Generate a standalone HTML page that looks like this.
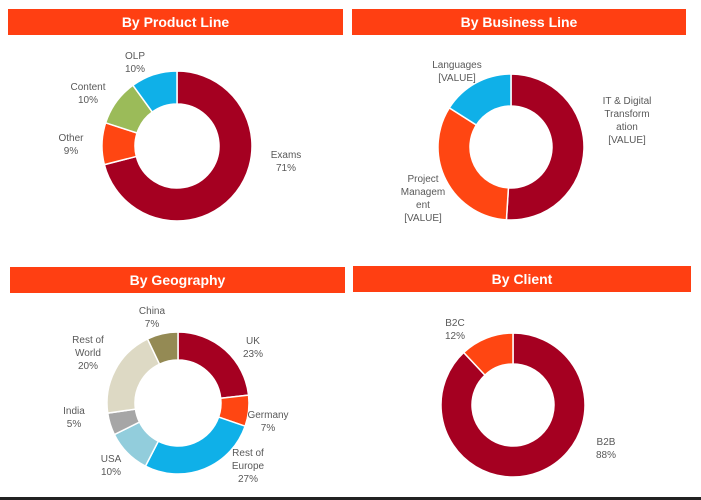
<!DOCTYPE html>
<html><head><meta charset="utf-8">
<style>
body{margin:0;width:701px;height:500px;background:#fff;overflow:hidden;font-family:"Liberation Sans",sans-serif;position:relative}
.hdr{position:absolute;background:#ff3f12;color:#fff;font-weight:bold;font-size:14px;text-align:center;line-height:26px;height:26px}
svg{position:absolute;left:0;top:0}
</style></head><body>
<div class="hdr" style="left:8px;top:9px;width:335px">By Product Line</div>
<div class="hdr" style="left:352px;top:9px;width:334px">By Business Line</div>
<div class="hdr" style="left:10px;top:267px;width:335px">By Geography</div>
<div class="hdr" style="left:353px;top:266px;width:338px">By Client</div>
<div style="position:absolute;left:0;top:497px;width:701px;height:3px;background:#222"></div>
<svg id="s" width="701" height="500"></svg>
<script>
const productCats=["Exams","Other","Content","OLP"];
const productVals=[71,9,10,10];
const businessCats=["IT & Digital Transformation","Project Management","Languages"];
const businessVals=[51,33,16];
const geoCats=["UK","Germany","Rest of Europe","USA","India","Rest of World","China"];
const geoVals=[23,7,27,10,5,20,7];
const clientCats=["B2B","B2C"];
const clientVals=[88,12];

const NS="http://www.w3.org/2000/svg";
const svg=document.getElementById('s');
function pt(cx,cy,r,a){return [cx+r*Math.sin(a),cy-r*Math.cos(a)];}
function donut(name,cx,cy,R,r,vals,cats,colors){
  const tot=vals.reduce((a,b)=>a+b,0);let a0=0;
  vals.forEach((v,i)=>{
    const a1=a0+v/tot*2*Math.PI;
    const large=(a1-a0)>Math.PI?1:0;
    const p1=pt(cx,cy,R,a0),p2=pt(cx,cy,R,a1),p3=pt(cx,cy,r,a1),p4=pt(cx,cy,r,a0);
    const p=document.createElementNS(NS,'path');
    p.setAttribute('d',`M${p1}A${R},${R} 0 ${large} 1 ${p2}L${p3}A${r},${r} 0 ${large} 0 ${p4}Z`);
    p.setAttribute('fill',colors[i]);p.setAttribute('stroke','#fff');p.setAttribute('stroke-width','1.5');
    
    
    svg.appendChild(p);a0=a1;
  });
}
function label(name,x,y,lines){
  const t=document.createElementNS(NS,'text');
  t.setAttribute('x',x);t.setAttribute('y',y);t.setAttribute('text-anchor','middle');
  t.setAttribute('font-size','10');t.setAttribute('fill','#595959');
  t.setAttribute('font-family','"Liberation Sans",sans-serif');
  
  
  lines.forEach((l,i)=>{const s=document.createElementNS(NS,'tspan');s.setAttribute('x',x);s.setAttribute('dy',i?13:0);s.textContent=l;t.appendChild(s);});
  svg.appendChild(t);
}
const CR="#a50021",OR="#ff4612",BL="#0fb0e8";
donut('product',177,146,75,42,productVals,productCats,[CR,OR,"#9bbb59",BL]);
donut('business',511,147,73,41,businessVals,businessCats,[CR,OR,BL]);
donut('geo',178,403,71,43,geoVals,geoCats,[CR,OR,BL,"#92cddc","#a6a6a6","#ddd9c4","#948a54"]);
donut('client',513,405,72,41,clientVals,clientCats,[CR,OR]);

label('label-exams',286,158,["Exams",productVals[0]+"%"]);
label('label-other',71,141,["Other",productVals[1]+"%"]);
label('label-content',88,90,["Content",productVals[2]+"%"]);
label('label-olp',135,59,["OLP",productVals[3]+"%"]);
label('label-it',627,104,["IT & Digital","Transform","ation","[VALUE]"]);
label('label-pm',423,182,["Project","Managem","ent","[VALUE]"]);
label('label-languages',457,68,["Languages","[VALUE]"]);
label('label-uk',253,344,["UK",geoVals[0]+"%"]);
label('label-germany',268,418,["Germany",geoVals[1]+"%"]);
label('label-rest-of-europe',248,456,["Rest of","Europe",geoVals[2]+"%"]);
label('label-usa',111,462,["USA",geoVals[3]+"%"]);
label('label-india',74,414,["India",geoVals[4]+"%"]);
label('label-rest-of-world',88,343,["Rest of","World",geoVals[5]+"%"]);
label('label-china',152,314,["China",geoVals[6]+"%"]);
label('label-b2b',606,445,["B2B",clientVals[0]+"%"]);
label('label-b2c',455,326,["B2C",clientVals[1]+"%"]);
</script>
</body></html>
